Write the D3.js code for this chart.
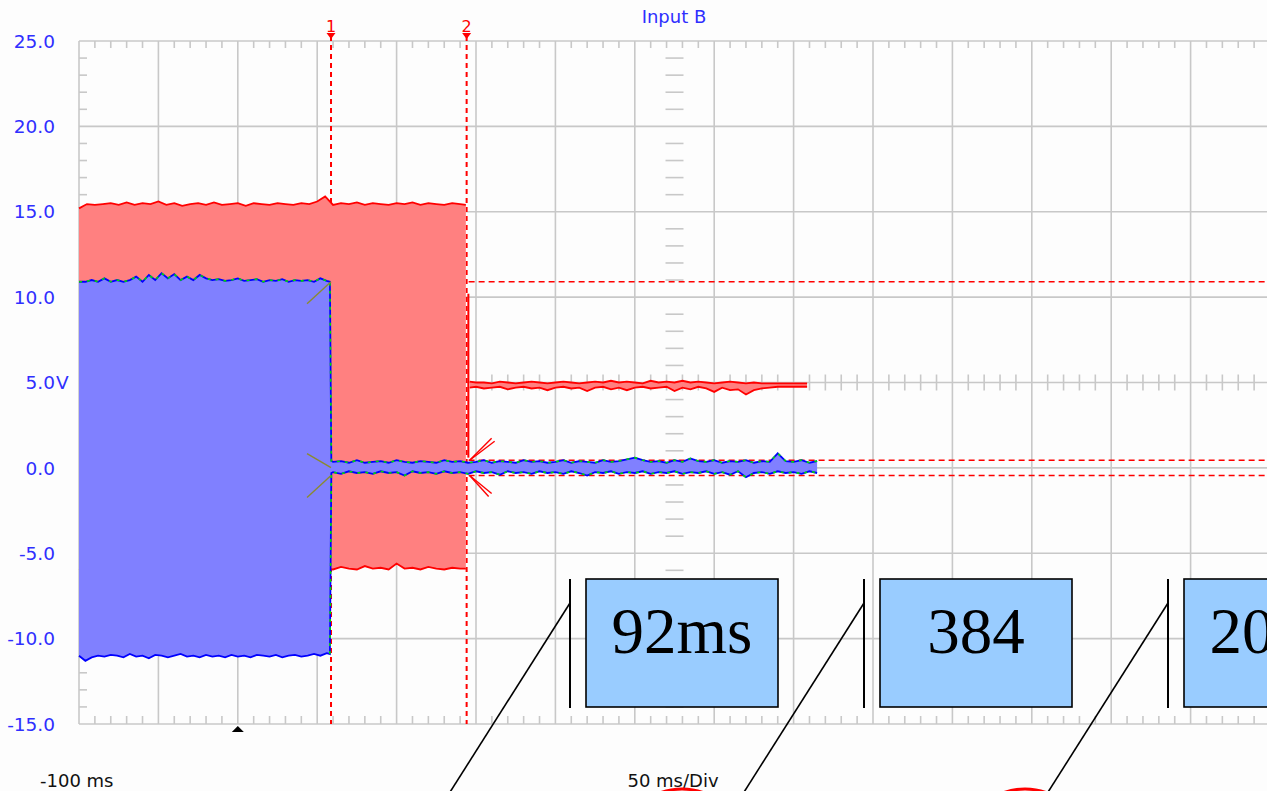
<!DOCTYPE html>
<html>
<head>
<meta charset="utf-8">
<script src="https://cdn.jsdelivr.net/npm/d3@7/dist/d3.min.js"></script>
<style>
  html, body { margin: 0; padding: 0; background: #fdfdfd; }
  svg { display: block; }
</style>
</head>
<body>
<svg id="chart" width="1267" height="791"></svg>
<script>
// Scope capture, 50 ms/div, -100 ms at left edge

const voltTicks = [-15, -10, -5, 0, 5, 10, 15, 20, 25];
const voltLabels = ['-15.0', '-10.0', '-5.0', '0.0', '5.0', '10.0', '15.0', '20.0', '25.0'];

const cursorTimes = [58.7, 144.1];
const cursorNames = ['1', '2'];
const triggerTime = 0;

// limits drawn as dashed rules (volts)
const leftRules = [0.45, 0.02, -0.45];
const rightRules = [10.9, 0.45, -0.45];

// Input A (red) envelope: [time ms, min V, max V]
const redBurst = [
  [-100, -5.9, 15.2], [-95, -5.95, 15.45], [-90, -5.85, 15.4], [-85, -5.9, 15.45],
  [-80, -5.95, 15.5], [-75, -5.9, 15.4], [-70, -5.85, 15.55], [-65, -5.9, 15.4],
  [-60, -5.95, 15.5], [-55, -5.9, 15.45], [-50, -5.85, 15.6], [-45, -5.9, 15.4],
  [-40, -5.95, 15.5], [-35, -5.9, 15.35], [-30, -5.85, 15.45], [-25, -5.9, 15.5],
  [-20, -5.95, 15.4], [-15, -5.9, 15.55], [-10, -5.85, 15.4], [-5, -5.9, 15.45],
  [0, -5.95, 15.5], [5, -5.9, 15.35], [10, -5.85, 15.5], [15, -5.9, 15.45],
  [20, -5.95, 15.4], [25, -5.9, 15.5], [30, -5.85, 15.45], [35, -5.9, 15.4],
  [40, -5.95, 15.5], [45, -5.9, 15.45], [50, -5.85, 15.6], [55, -5.9, 15.9],
  [60, -5.95, 15.4], [65, -5.8, 15.5], [70, -5.9, 15.45], [75, -5.95, 15.55],
  [80, -5.75, 15.4], [85, -5.9, 15.5], [90, -5.85, 15.45], [95, -5.95, 15.4],
  [100, -5.6, 15.5], [105, -5.9, 15.45], [110, -5.85, 15.55], [115, -5.95, 15.4],
  [120, -5.8, 15.5], [125, -5.9, 15.45], [130, -5.95, 15.4], [135, -5.85, 15.5],
  [140, -5.9, 15.45], [143.6, -5.9, 15.4]
];
// the single sample on the falling edge
const redStep = [145.2, 0.6, 10.2];
const redSettled = [
  [146, 4.7, 5.05], [150, 4.75, 5.0], [155, 4.65, 5.0], [160, 4.7, 4.95],
  [165, 4.75, 5.05], [170, 4.6, 5.0], [175, 4.7, 4.95], [180, 4.75, 5.0],
  [185, 4.65, 5.05], [190, 4.7, 5.0], [195, 4.55, 4.95], [200, 4.7, 5.0],
  [205, 4.75, 5.05], [210, 4.65, 5.0], [215, 4.7, 4.95], [220, 4.5, 5.0],
  [225, 4.7, 5.05], [230, 4.75, 5.0], [235, 4.6, 5.1], [240, 4.7, 5.0],
  [245, 4.55, 5.05], [250, 4.7, 5.0], [255, 4.75, 4.95], [260, 4.65, 5.1],
  [265, 4.7, 5.0], [270, 4.75, 5.05], [275, 4.5, 5.0], [280, 4.7, 5.1],
  [285, 4.6, 5.0], [290, 4.75, 5.05], [295, 4.65, 5.0], [300, 4.45, 4.95],
  [305, 4.7, 5.0], [310, 4.55, 5.05], [315, 4.6, 5.0], [320, 4.3, 4.95],
  [325, 4.55, 5.0], [330, 4.65, 4.95], [335, 4.7, 4.95], [340, 4.75, 4.95],
  [345, 4.75, 4.95], [350, 4.75, 4.95], [355, 4.75, 4.95], [358.5, 4.75, 4.95]
];

// Input B (blue) envelope: [time ms, min V, max V]
const blueTrace = [
  [-100, -11.0, 10.9], [-96, -11.3, 10.9], [-92, -11.1, 11.0], [-88, -11.0, 10.9],
  [-84, -11.05, 11.1], [-80, -10.95, 10.9], [-76, -11.0, 11.0], [-72, -11.1, 10.9],
  [-68, -10.9, 11.0], [-64, -11.05, 11.2], [-60, -11.0, 10.9], [-56, -11.15, 11.3],
  [-52, -10.95, 11.0], [-48, -11.0, 11.4], [-44, -11.1, 11.1], [-40, -11.0, 11.35],
  [-36, -10.9, 11.0], [-32, -11.05, 11.2], [-28, -11.0, 11.0], [-24, -11.1, 11.3],
  [-20, -10.95, 11.1], [-16, -11.05, 11.0], [-12, -11.0, 11.05], [-8, -11.1, 10.95],
  [-4, -10.95, 11.0], [0, -11.05, 11.1], [4, -11.0, 10.95], [8, -11.1, 11.0],
  [12, -10.95, 11.05], [16, -11.0, 10.9], [20, -11.05, 11.0], [24, -10.95, 10.95],
  [28, -11.1, 11.05], [32, -11.0, 10.9], [36, -10.95, 11.0], [40, -11.05, 10.95],
  [44, -11.0, 11.0], [48, -10.9, 10.9], [52, -11.0, 11.1], [56, -10.85, 10.95],
  [58.0, -10.9, 10.9],
  [58.9, -0.3, 0.4], [60, -0.25, 0.35], [65, -0.35, 0.4], [70, -0.2, 0.3],
  [75, -0.3, 0.45], [80, -0.25, 0.3], [85, -0.35, 0.35], [90, -0.2, 0.4],
  [95, -0.3, 0.3], [100, -0.25, 0.45], [105, -0.45, 0.35], [110, -0.2, 0.3],
  [115, -0.3, 0.4], [120, -0.25, 0.35], [125, -0.35, 0.3], [130, -0.2, 0.45],
  [135, -0.3, 0.35], [140, -0.25, 0.4], [145, -0.35, 0.3], [150, -0.2, 0.35],
  [155, -0.3, 0.45], [160, -0.25, 0.3], [165, -0.4, 0.4], [170, -0.2, 0.35],
  [175, -0.3, 0.3], [180, -0.25, 0.45], [185, -0.35, 0.35], [190, -0.2, 0.4],
  [195, -0.3, 0.3], [200, -0.25, 0.35], [205, -0.35, 0.45], [210, -0.2, 0.3],
  [215, -0.3, 0.4], [220, -0.45, 0.35], [225, -0.25, 0.3], [230, -0.3, 0.45],
  [235, -0.2, 0.35], [240, -0.35, 0.4], [245, -0.25, 0.5], [250, -0.3, 0.6],
  [255, -0.2, 0.45], [260, -0.35, 0.35], [265, -0.25, 0.4], [270, -0.3, 0.3],
  [275, -0.2, 0.45], [280, -0.35, 0.35], [285, -0.25, 0.55], [290, -0.3, 0.4],
  [295, -0.2, 0.35], [300, -0.35, 0.45], [305, -0.25, 0.3], [310, -0.4, 0.4],
  [315, -0.2, 0.35], [320, -0.55, 0.45], [325, -0.3, 0.3], [330, -0.25, 0.4],
  [335, -0.35, 0.35], [340, -0.2, 0.85], [345, -0.3, 0.4], [350, -0.25, 0.35],
  [355, -0.35, 0.45], [360, -0.2, 0.3], [364.8, -0.3, 0.4]
];

const calloutLabels = ['92ms', '384', '20ms'];

// ---------------------------------------------------------------

const W = 1267, H = 791;
const PLOT = { left: 79, right: 1270, top: 41, bottom: 724 };

const RED = '#ff0000', RED_FILL = '#ff8080';
const BLUE = '#0000ff', BLUE_FILL = '#8080ff';
const GREEN = '#00dd00', OLIVE = '#8a8a30';
const GRID = '#c8c8c8';
const LABEL_BLUE = '#2f2fff';
const FONT = '"DejaVu Sans", Verdana, sans-serif';

const svg = d3.select('#chart');

const x = d3.scaleLinear().domain([-100, 650]).range([PLOT.left, PLOT.right]);
const y = d3.scaleLinear().domain([-15, 25]).range([PLOT.bottom, PLOT.top]);

svg.append('rect').attr('width', W).attr('height', H).attr('fill', '#fdfdfd');

// grid
const majorT = d3.range(-100, 651, 50);
const minorT = d3.range(-100, 651, 10).filter((t) => (t + 100) % 50 !== 0);
const minorV = d3.range(-15, 26, 1).filter((v) => (v + 15) % 5 !== 0);

const grid = svg.append('g').attr('stroke', GRID).attr('stroke-width', 1.6);
grid.selectAll('.vgrid').data(majorT).enter().append('line')
  .attr('x1', (d) => x(d)).attr('x2', (d) => x(d))
  .attr('y1', PLOT.top).attr('y2', PLOT.bottom);
grid.selectAll('.hgrid').data(voltTicks).enter().append('line')
  .attr('x1', PLOT.left).attr('x2', PLOT.right)
  .attr('y1', (d) => y(d)).attr('y2', (d) => y(d));

// minor ticks on the frame and on the centre cross
const ticks = svg.append('g').attr('stroke', GRID).attr('stroke-width', 1.6);
const midT = 275, midV = 5;
minorT.forEach((t) => {
  ticks.append('line').attr('x1', x(t)).attr('x2', x(t)).attr('y1', PLOT.top).attr('y2', PLOT.top + 7);
  ticks.append('line').attr('x1', x(t)).attr('x2', x(t)).attr('y1', PLOT.bottom - 8).attr('y2', PLOT.bottom);
  ticks.append('line').attr('x1', x(t)).attr('x2', x(t)).attr('y1', y(midV) - 8).attr('y2', y(midV) + 8);
});
minorV.forEach((v) => {
  ticks.append('line').attr('x1', PLOT.left).attr('x2', PLOT.left + 8).attr('y1', y(v)).attr('y2', y(v));
  ticks.append('line').attr('x1', x(midT) - 9).attr('x2', x(midT) + 9).attr('y1', y(v)).attr('y2', y(v));
});

// cursors (behind the traces)
const cursors = svg.append('g');
cursorTimes.forEach((t, i) => {
  cursors.append('line')
    .attr('x1', x(t)).attr('x2', x(t))
    .attr('y1', 36).attr('y2', PLOT.bottom)
    .attr('stroke', RED).attr('stroke-width', 2).attr('stroke-dasharray', '5,4');
  cursors.append('path')
    .attr('d', `M${x(t) - 4.5},33L${x(t) + 4.5},33L${x(t)},39Z`)
    .attr('fill', RED);
  cursors.append('text')
    .attr('x', x(t)).attr('y', 32)
    .attr('text-anchor', 'middle')
    .attr('font-family', FONT).attr('font-size', 16)
    .attr('fill', RED)
    .text(cursorNames[i]);
});

// dashed limit rules
const rules = svg.append('g').attr('stroke-width', 1.6).attr('stroke-dasharray', '6,4');
leftRules.forEach((v) => {
  rules.append('line')
    .attr('x1', x(-100)).attr('x2', x(cursorTimes[1]))
    .attr('y1', y(v)).attr('y2', y(v)).attr('stroke', OLIVE);
});
rightRules.forEach((v) => {
  rules.append('line')
    .attr('x1', x(cursorTimes[1]) + 2).attr('x2', PLOT.right)
    .attr('y1', y(v)).attr('y2', y(v)).attr('stroke', RED);
});

const area = d3.area().x((d) => x(d[0])).y0((d) => y(d[1])).y1((d) => y(d[2]));
const hiLine = d3.line().x((d) => x(d[0])).y((d) => y(d[2]));
const loLine = d3.line().x((d) => x(d[0])).y((d) => y(d[1]));

function drawTrace(data, fill, stroke) {
  const g = svg.append('g');
  g.append('path').datum(data).attr('d', area).attr('fill', fill);
  g.append('path').datum(data).attr('d', hiLine)
    .attr('fill', 'none').attr('stroke', stroke).attr('stroke-width', 1.8);
  g.append('path').datum(data).attr('d', loLine)
    .attr('fill', 'none').attr('stroke', stroke).attr('stroke-width', 1.8);
  return g;
}

drawTrace(redBurst, RED_FILL, RED);
svg.append('line')
  .attr('x1', x(redStep[0])).attr('x2', x(redStep[0]))
  .attr('y1', y(redStep[2])).attr('y2', y(redStep[1]))
  .attr('stroke', RED).attr('stroke-width', 2);
drawTrace(redSettled, RED_FILL, RED);
drawTrace(blueTrace, BLUE_FILL, BLUE);

// green dashed reference over the blue outline
const greenG = svg.append('g')
  .attr('fill', 'none').attr('stroke', GREEN).attr('stroke-width', 1.6)
  .attr('stroke-dasharray', '3,5');
greenG.append('path').datum(blueTrace).attr('d', hiLine);
greenG.append('path').datum(blueTrace.filter((d) => d[0] >= 58)).attr('d', loLine);

// measurement markers at the cursors
const c1 = x(cursorTimes[0]), c2 = x(cursorTimes[1]) + 3;
const marks = svg.append('g').attr('fill', 'none').attr('stroke-width', 1.4);
[[10.9, -24, 22], [0.02, -24, -14], [-0.45, -24, 22]].forEach(([v, dx, dy]) => {
  marks.append('line')
    .attr('x1', c1).attr('y1', y(v)).attr('x2', c1 + dx).attr('y2', y(v) + dy)
    .attr('stroke', OLIVE);
});
[[0.45, 22, -22], [0.45, 25, -19], [-0.45, 22, 18], [-0.45, 19, 21]].forEach(([v, dx, dy]) => {
  marks.append('line')
    .attr('x1', c2).attr('y1', y(v)).attr('x2', c2 + dx).attr('y2', y(v) + dy)
    .attr('stroke', RED);
});

// trigger marker
svg.append('path')
  .attr('d', `M${x(triggerTime) - 6},732L${x(triggerTime) + 6},732L${x(triggerTime)},726Z`)
  .attr('fill', '#000');

// axis labels
const labels = svg.append('g')
  .attr('font-family', FONT).attr('font-size', 18.5).attr('fill', LABEL_BLUE);
voltTicks.forEach((v, i) => {
  labels.append('text')
    .attr('x', 55).attr('y', y(v)).attr('dy', '0.36em')
    .attr('text-anchor', 'end')
    .text(voltLabels[i]);
  if (v === 5) {
    labels.append('text')
      .attr('x', 56).attr('y', y(v)).attr('dy', '0.36em')
      .text('V');
  }
});

labels.append('text').attr('x', 674).attr('y', 23).attr('text-anchor', 'middle').attr('font-size', 18).text('Input B');

const axisText = svg.append('g')
  .attr('font-family', FONT).attr('font-size', 18).attr('fill', '#111');
axisText.append('text').attr('x', 40).attr('y', 787).text('-100 ms');
axisText.append('text').attr('x', 673).attr('y', 787).attr('text-anchor', 'middle').text('50 ms/Div');

// overlaid callouts
const calloutLefts = [586, 880, 1184];
const barXs = [570, 864, 1168];
const over = svg.append('g');
calloutLabels.forEach((label, i) => {
  const bx = calloutLefts[i];
  over.append('line')
    .attr('x1', barXs[i]).attr('x2', barXs[i]).attr('y1', 579).attr('y2', 708)
    .attr('stroke', '#000').attr('stroke-width', 2);
  over.append('line')
    .attr('x1', barXs[i]).attr('y1', 603).attr('x2', barXs[i] - 125).attr('y2', 800)
    .attr('stroke', '#000').attr('stroke-width', 1.6);
  over.append('rect')
    .attr('x', bx).attr('y', 579).attr('width', 192).attr('height', 128)
    .attr('fill', '#99ccff').attr('stroke', '#000').attr('stroke-width', 1.6);
  over.append('text')
    .attr('x', bx + 96).attr('y', 653)
    .attr('text-anchor', 'middle')
    .attr('font-family', '"Liberation Serif", "Times New Roman", serif')
    .attr('font-size', 65).attr('fill', '#000')
    .text(label);
});

// red rings peeking in at the bottom edge
[682, 1025].forEach((cx) => {
  over.append('ellipse')
    .attr('cx', cx).attr('cy', 829).attr('rx', 50).attr('ry', 40)
    .attr('fill', 'none').attr('stroke', RED).attr('stroke-width', 3);
});
</script>
</body>
</html>
